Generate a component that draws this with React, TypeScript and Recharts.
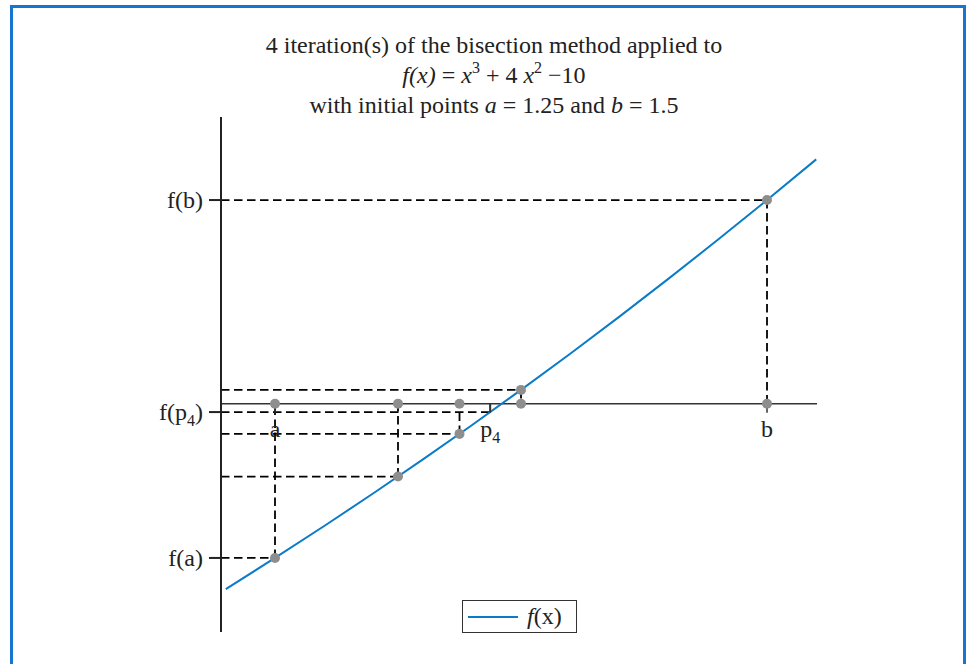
import React from "react";
import {
  ComposedChart,
  Line,
  XAxis,
  YAxis,
  ReferenceLine,
  ReferenceDot,
  Legend,
} from "recharts";

// f(x) = x^3 + 4x^2 - 10, sampled along the plotted range
const curveX = [1.225, 1.25, 1.275, 1.3, 1.325, 1.35, 1.375, 1.4, 1.425, 1.45, 1.475, 1.5, 1.525];
const curveY = [
  -2.159234, -1.796875, -1.424828, -1.043, -0.651297, -0.249625, 0.162109, 0.584,
  1.016141, 1.458625, 1.911547, 2.375, 2.849078,
];

// a, b, p1, p2, p3, p4
const iterNames = ["a", "b", "p1", "p2", "p3", "p4"];
const iterX = [1.25, 1.5, 1.375, 1.3125, 1.34375, 1.359375];
const iterY = [-1.796875, 2.375, 0.162109, -0.848389, -0.350983, -0.096409];

const yTickValues = [-1.796875, -0.096409, 2.375];
const yTickLabels = ["f(a)", "f(p4)", "f(b)"];
const xTickLabels = ["a", "b", "p4"];
const xTickValues = [1.25, 1.5, 1.359375];

const X_MIN = 1.22256;
const X_MAX = 1.5254;
const Y_MIN = -2.66;
const Y_MAX = 3.343;

const FONT = "'Liberation Serif', 'Times New Roman', serif";
const BLUE = "#0b7bc8";
const INK = "#222";
const AXIS = "#333";
const DOT = "#8e8e8e";

const curveData = curveX.map((x, i) => ({ x, y: curveY[i] }));

const Label = ({ text, x, y, anchor }: { text: string; x: number; y: number; anchor: string }) => {
  const sub = text.match(/^(.*p)(\d)(\)?)$/);
  return (
    <text x={x} y={y} textAnchor={anchor} fontFamily={FONT} fontSize={24} fill={INK}>
      {sub ? (
        <>
          {sub[1]}
          <tspan dy={6} fontSize={16}>{sub[2]}</tspan>
          {sub[3] ? <tspan dy={-6}>{sub[3]}</tspan> : null}
        </>
      ) : (
        text
      )}
    </text>
  );
};

const YTick = (props: any) => {
  const { x, y, payload } = props;
  const idx = yTickValues.findIndex((v) => Math.abs(v - payload.value) < 1e-6);
  return <Label text={yTickLabels[idx] ?? ""} x={x} y={y + 8} anchor="end" />;
};

const XTickShape = (label: string) => (props: any) => {
  const { cx, cy } = props;
  return (
    <g>
      <line x1={cx} y1={cy} x2={cx} y2={cy + 9} stroke={AXIS} strokeWidth={1.5} />
      <Label text={label} x={cx} y={cy + 33} anchor="middle" />
    </g>
  );
};

const LegendBox = () => (
  <div
    style={{
      boxSizing: "border-box",
      width: 115,
      height: 33,
      border: "1.5px solid #333",
      background: "#fff",
      display: "flex",
      alignItems: "center",
      fontFamily: FONT,
      fontSize: 24,
      color: INK,
    }}
  >
    <div style={{ width: 50, height: 2, background: BLUE, marginLeft: 5, marginRight: 9 }} />
    <span>
      <i>f</i>(x)
    </span>
  </div>
);

const titleLine = (top: number): React.CSSProperties => ({
  position: "absolute",
  left: 194,
  width: 600,
  top,
  textAlign: "center",
  fontFamily: FONT,
  fontSize: 24,
  lineHeight: "30px",
  color: INK,
  whiteSpace: "nowrap",
});

const sup: React.CSSProperties = { fontSize: 16, position: "relative", top: -10 };

export default function App() {
  return (
    <div
      style={{
        position: "absolute",
        left: 0,
        top: 0,
        width: 967,
        height: 664,
        overflow: "hidden",
        background: "#fff",
      }}
    >
      <div
        style={{
          position: "absolute",
          left: 10,
          top: 5,
          width: 956,
          height: 720,
          boxSizing: "border-box",
          border: "3px solid #1874d2",
        }}
      />
      <div style={titleLine(30)}>4 iteration(s) of the bisection method applied to</div>
      <div style={titleLine(60)}>
        <i>f(x)</i> = <i>x</i>
        <span style={sup}>3</span> + 4 <i>x</i>
        <span style={sup}>2</span> −10
      </div>
      <div style={titleLine(90)}>
        with initial points <i>a</i> = 1.25 and <i>b</i> = 1.5
      </div>
      <div style={{ position: "absolute", left: 0, top: 0 }}>
        <ComposedChart
          width={967}
          height={664}
          margin={{ top: 117, right: 150, bottom: 32, left: 161 }}
        >
          <XAxis
            dataKey="x"
            type="number"
            domain={[X_MIN, X_MAX]}
            allowDataOverflow
            hide
          />
          <YAxis
            type="number"
            domain={[Y_MIN, Y_MAX]}
            allowDataOverflow
            width={60}
            ticks={yTickValues}
            interval={0}
            tick={<YTick />}
            tickSize={12}
            tickMargin={6}
            axisLine={{ stroke: INK, strokeWidth: 2 }}
            tickLine={{ stroke: INK, strokeWidth: 2 }}
          />
          {iterX.map((px, i) => (
            <ReferenceLine
              key={"h" + iterNames[i]}
              segment={[
                { x: X_MIN, y: iterY[i] },
                { x: px, y: iterY[i] },
              ]}
              stroke="#000"
              strokeWidth={1.8}
              strokeDasharray="8.5 4.5"
            />
          ))}
          {iterX.map((px, i) => (
            <ReferenceLine
              key={"v" + iterNames[i]}
              segment={[
                { x: px, y: iterY[i] },
                { x: px, y: 0 },
              ]}
              stroke="#000"
              strokeWidth={1.8}
              strokeDasharray="8.5 4.5"
            />
          ))}
          <ReferenceLine y={0} stroke={AXIS} strokeWidth={1.6} />
          {xTickValues.map((v, i) => (
            <ReferenceDot
              key={"t" + xTickLabels[i]}
              x={v}
              y={0}
              r={0}
              shape={XTickShape(xTickLabels[i])}
            />
          ))}
          {iterX.slice(0, 5).map((px, i) => (
            <ReferenceDot key={"d0" + i} x={px} y={0} r={5} fill={DOT} stroke="none" />
          ))}
          {iterX.slice(0, 5).map((px, i) => (
            <ReferenceDot key={"d1" + i} x={px} y={iterY[i]} r={5} fill={DOT} stroke="none" />
          ))}
          <Line
            data={curveData}
            dataKey="y"
            type="monotone"
            stroke={BLUE}
            strokeWidth={2}
            dot={false}
            activeDot={false}
            isAnimationActive={false}
          />
          <Legend
            layout="horizontal"
            verticalAlign="middle"
            align="center"
            content={() => <LegendBox />}
            wrapperStyle={{ left: 462, top: 600, width: 115, height: 33 }}
          />
        </ComposedChart>
      </div>
    </div>
  );
}
